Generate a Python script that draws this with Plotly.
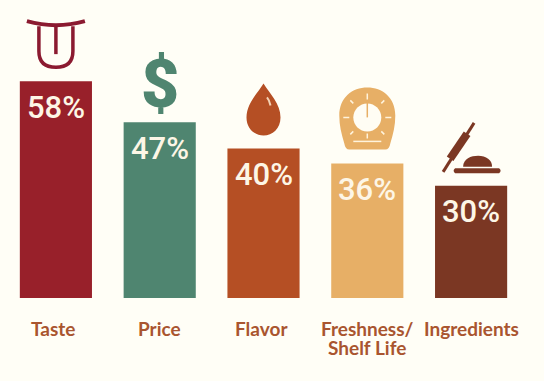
import plotly.graph_objects as go

categories = ["Taste", "Price", "Flavor", "Freshness/<br>Shelf Life", "Ingredients"]
values = [58, 47, 40, 36, 30]
value_labels = ["58%", "47%", "40%", "36%", "30%"]
bar_colors = ["#98202A", "#4F8570", "#B54F24", "#E7AF66", "#7B3723"]
label_xshift = [-3, 0, -2, 0, 0]

BG = "#FFFEF6"
LABEL = "#A9552F"

fig = go.Figure(go.Bar(x=list(range(5)), y=values, marker=dict(color=bar_colors, line_width=0),
                       width=0.695, hoverinfo="skip"))


def icon(i, path, fill=None, stroke=None, width=0):
    fig.add_shape(type="path", path=path, xref="x", yref="y", xsizemode="pixel", ysizemode="pixel",
                  xanchor=i, yanchor=values[i], fillcolor=fill or "rgba(0,0,0,0)",
                  line=dict(color=stroke or "rgba(0,0,0,0)", width=width), layer="above")


# Tongue
T = "#8B1A30"
icon(0, "M-29,60 Q0,52 29,60", stroke=T, width=4)
icon(0, "M-17,55 L-17,30 Q-17,14 0,14 Q17,14 17,30 L17,55", stroke=T, width=3.5)
icon(0, "M0,55 L0,27", stroke=T, width=3.5)

# Drop
D = bar_colors[2]
icon(2, "M0,65 C-6,55 -17,45 -17,31 C-17,20 -9,13 0,13 C9,13 17,20 17,31 C17,45 6,55 0,65 Z", fill=D)
icon(2, "M3.5,51 Q6,48 7,43", stroke="#F3D2B5", width=2)

# Timer
K = bar_colors[3]
icon(3, "M-18,14 L18,14 Q22,14 23,20 C26,30 28,38 28,48 C28,66 15,76 0,76 "
        "C-15,76 -28,66 -28,48 C-28,38 -26,30 -23,20 Q-22,14 -18,14 Z", fill=K)
icon(3, "M-14,46 C-14,53.7 -7.7,60 0,60 C7.7,60 14,53.7 14,46 C14,38.3 7.7,32 0,32 C-7.7,32 -14,38.3 -14,46 Z",
     fill="#FFFDF4")
icon(3, "M0,46 L0,63", stroke=K, width=1.5)
icon(3, "M0,70 L0,64 M0,30 L0,25 M-24,46 L-18,46 M24,46 L18,46 "
        "M-17,63 L-14,60 M17,63 L14,60 M-17,29 L-14,32 M17,29 L14,32", stroke="#FFF3DC", width=1.5)
icon(3, "M-14,22 L14,22", stroke="#FFF3DC", width=1.5)

# Rolling pin and dough
R = bar_colors[4]
icon(4, "M3,63 L-28,14", stroke=R, width=3)
icon(4, "M-4,52 L-21,27", stroke=R, width=8)
icon(4, "M-8,19 C-8,27 0,30 7,30 C15,30 21,26 21,19 Z", fill=R)
icon(4, "M-16,17.5 L28,17.5 Q31,15 28,12.5 L-16,12.5 Q-19,15 -16,17.5 Z", fill=R)

# Dollar glyph
fig.add_annotation(x=1, y=values[1], yshift=38, text="$", showarrow=False, xanchor="center", yanchor="middle",
                   font=dict(family="Roboto", size=66, weight=900, color=bar_colors[1]))

for i in range(5):
    fig.add_annotation(x=i, y=values[i], yshift=-26, text=value_labels[i], showarrow=False,
                       xanchor="center", yanchor="middle",
                       font=dict(family="Roboto", size=31, weight=500, color="#FDF6E6"))
    for k, line in enumerate(categories[i].split("<br>")):
        fig.add_annotation(x=i, y=0, yshift=-17 - 19 * k, xshift=label_xshift[i], text=line, showarrow=False,
                           xanchor="center", yanchor="top", align="center",
                           font=dict(family="Lato", size=19, weight=700, color=LABEL))

fig.update_layout(
    width=544, height=381, autosize=False, showlegend=False,
    margin=dict(l=4, r=21, t=0, b=83),
    paper_bgcolor=BG, plot_bgcolor=BG,
    xaxis=dict(range=[-0.5, 4.5], visible=False, fixedrange=True),
    yaxis=dict(range=[0, 79.7], visible=False, fixedrange=True),
)
fig.write_html("out.html", config=dict(displayModeBar=False),
               post_script="document.body.style.margin='0';document.body.style.background='#FFFEF6';")
